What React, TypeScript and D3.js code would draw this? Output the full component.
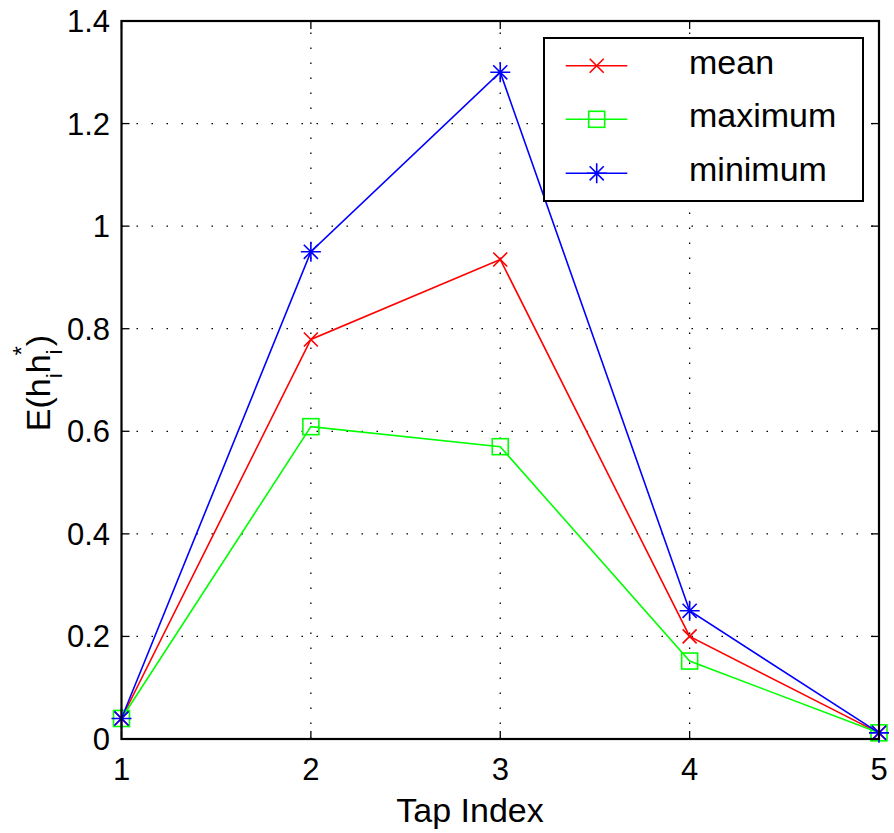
import React from "react";
import * as d3 from "d3";

const taps = [1, 2, 3, 4, 5];
const meanVals = [0.04, 0.779, 0.935, 0.2, 0.012];
const maxVals = [0.04, 0.609, 0.57, 0.152, 0.012];
const minVals = [0.04, 0.95, 1.3, 0.25, 0.012];
const xTicks = [1, 2, 3, 4, 5];
const yTicks = [0, 0.2, 0.4, 0.6, 0.8, 1, 1.2, 1.4];
const seriesNames = ["mean", "maximum", "minimum"];

const W = 894, H = 833;
const L = 121.5, R = 879, T = 21, B = 739;
const FONT = "'Liberation Sans', Arial, Helvetica, sans-serif";

function Marker({ kind, x, y, color }: { kind: string; x: number; y: number; color: string }) {
  if (kind === "x") {
    const s = 7;
    return (
      <path d={`M${x - s},${y - s}L${x + s},${y + s}M${x - s},${y + s}L${x + s},${y - s}`} stroke={color} strokeWidth={1.6} fill="none" />
    );
  }
  if (kind === "square") {
    const s = 8;
    return <rect x={x - s} y={y - s} width={2 * s} height={2 * s} stroke={color} strokeWidth={1.6} fill="none" />;
  }
  const s = 10, d = 7.07;
  return (
    <path
      d={`M${x - s},${y}L${x + s},${y}M${x},${y - s}L${x},${y + s}M${x - d},${y - d}L${x + d},${y + d}M${x - d},${y + d}L${x + d},${y - d}`}
      stroke={color}
      strokeWidth={1.6}
      fill="none"
    />
  );
}

export default function App() {
  const x = d3.scaleLinear().domain([1, 5]).range([L, R]);
  const y = d3.scaleLinear().domain([0, 1.4]).range([B, T]);
  const series = [
    { name: seriesNames[0], vals: meanVals, color: "#ff0000", kind: "x" },
    { name: seriesNames[1], vals: maxVals, color: "#00ff00", kind: "square" },
    { name: seriesNames[2], vals: minVals, color: "#0000ff", kind: "star" },
  ];
  const line = d3
    .line<number>()
    .x((_, i) => x(taps[i]))
    .y((d) => y(d));
  const tickLen = 8;
  const legX = 544, legY = 38, legW = 319, legH = 163;
  const rowY = [65.7, 119.3, 173.3];

  return (
    <svg width={W} height={H} style={{ position: "absolute", left: 0, top: 0 }} fontFamily={FONT}>
      <rect x={0} y={0} width={W} height={H} fill="#fff" />
      {/* grid */}
      {xTicks.slice(1, -1).map((t) => (
        <line key={"gx" + t} x1={x(t)} x2={x(t)} y1={B} y2={T} stroke="#000" strokeWidth={1.3} strokeDasharray="1.5 13.5" />
      ))}
      {yTicks.slice(1, -1).map((t) => (
        <line key={"gy" + t} x1={L} x2={R} y1={y(t)} y2={y(t)} stroke="#000" strokeWidth={1.3} strokeDasharray="1.5 13.5" />
      ))}
      {/* ticks */}
      {xTicks.map((t) => (
        <g key={"tx" + t}>
          <line x1={x(t)} x2={x(t)} y1={B} y2={B - tickLen} stroke="#000" strokeWidth={1.3} />
          <line x1={x(t)} x2={x(t)} y1={T} y2={T + tickLen} stroke="#000" strokeWidth={1.3} />
          <text x={x(t)} y={780} textAnchor="middle" fontSize={31}>{t}</text>
        </g>
      ))}
      {yTicks.map((t) => (
        <g key={"ty" + t}>
          <line x1={L} x2={L + tickLen} y1={y(t)} y2={y(t)} stroke="#000" strokeWidth={1.3} />
          <line x1={R} x2={R - tickLen} y1={y(t)} y2={y(t)} stroke="#000" strokeWidth={1.3} />
          <text x={110} y={y(t) + 11} textAnchor="end" fontSize={31}>{d3.format("~g")(t)}</text>
        </g>
      ))}
      {/* series */}
      {series.map((s) => (
        <g key={s.name}>
          <path d={line(s.vals) || ""} fill="none" stroke={s.color} strokeWidth={1.6} />
          {s.vals.map((v, i) => (
            <Marker key={i} kind={s.kind} x={x(taps[i])} y={y(v)} color={s.color} />
          ))}
        </g>
      ))}
      {/* axes box */}
      <rect x={L} y={T} width={R - L} height={B - T} fill="none" stroke="#000" strokeWidth={2.2} />
      {/* labels */}
      <text x={470} y={822} textAnchor="middle" fontSize={34}>Tap Index</text>
      <text transform={`translate(50,383) rotate(-90)`} textAnchor="middle" fontSize={34}>
        E(h<tspan fontSize={22} dy={12}>i</tspan>
        <tspan dy={-12}>h</tspan>
        <tspan fontSize={22} dy={12}>i</tspan>
        <tspan fontSize={24} dx={-6} dy={-32}>*</tspan>
        <tspan dy={20}>)</tspan>
      </text>
      {/* legend */}
      <rect x={legX} y={legY} width={legW} height={legH} fill="#fff" stroke="#000" strokeWidth={2} />
      {series.map((s, i) => (
        <g key={"leg" + s.name}>
          <line x1={565.7} x2={627.3} y1={rowY[i]} y2={rowY[i]} stroke={s.color} strokeWidth={1.6} />
          <Marker kind={s.kind} x={596.7} y={rowY[i]} color={s.color} />
          <text x={689} y={rowY[i] + 8} fontSize={34}>{s.name}</text>
        </g>
      ))}
    </svg>
  );
}
